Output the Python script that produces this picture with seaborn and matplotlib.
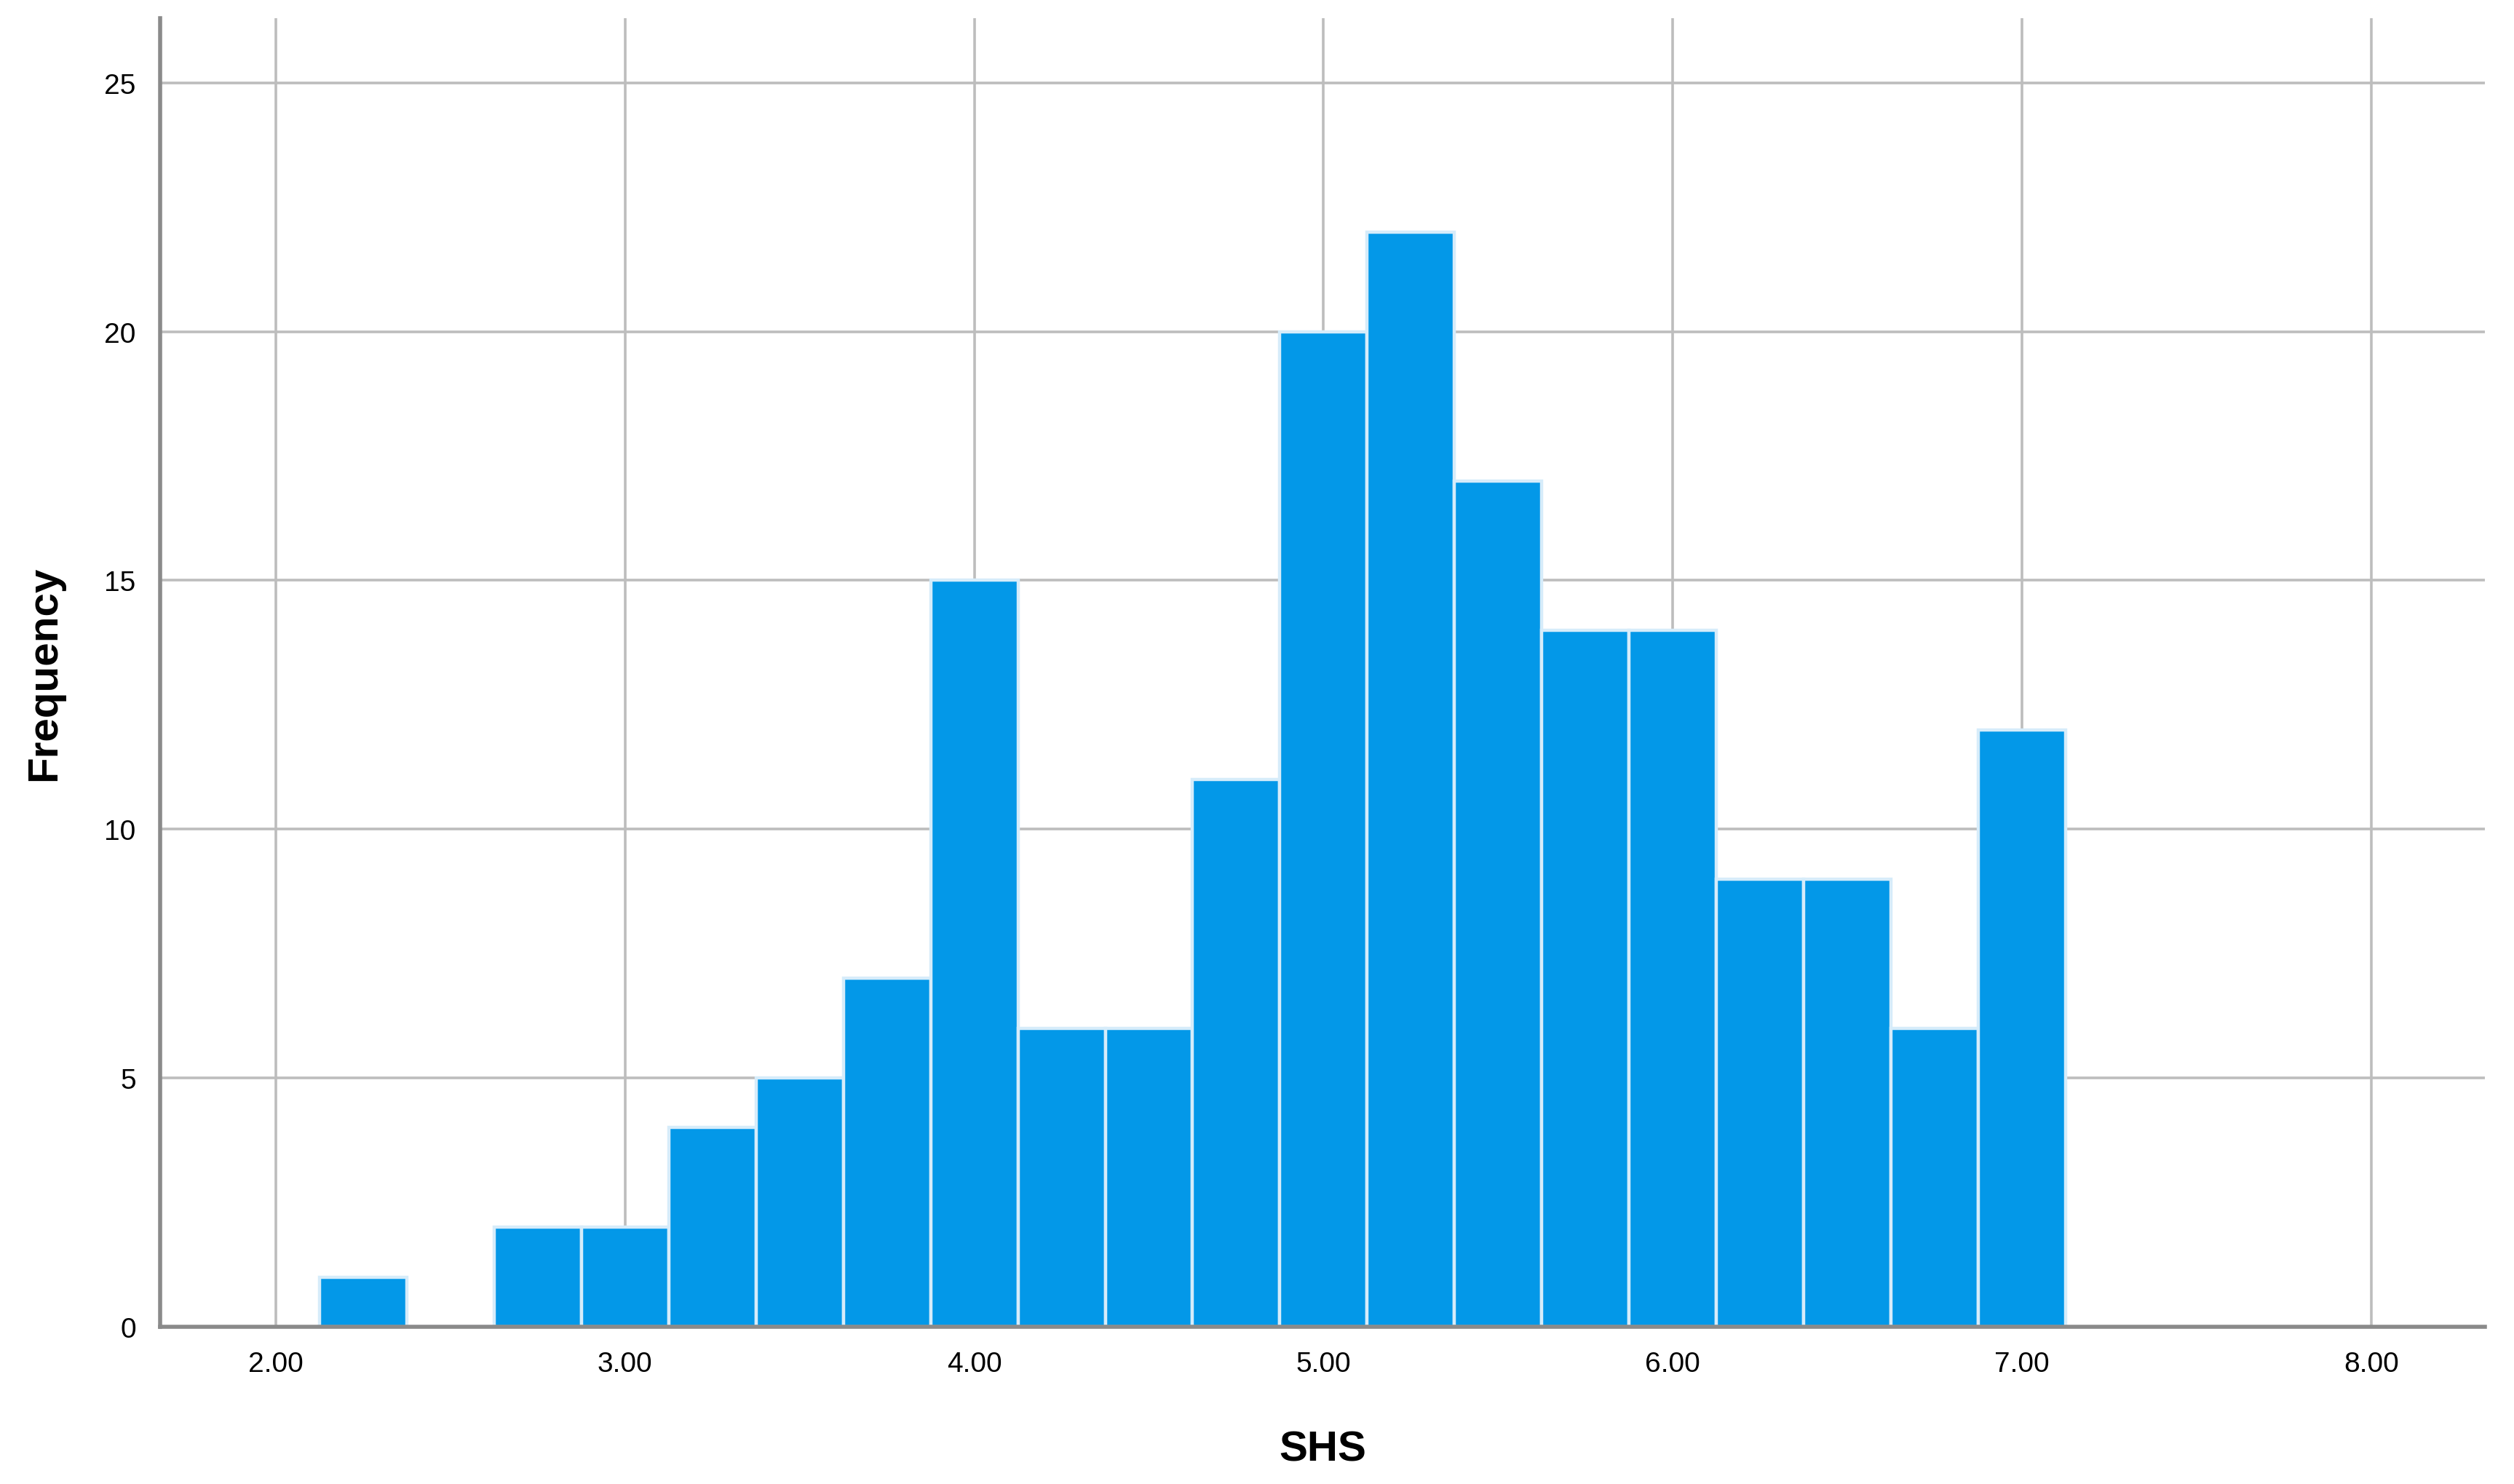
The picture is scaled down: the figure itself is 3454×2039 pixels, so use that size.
import seaborn as sns
import matplotlib
matplotlib.use('Agg')

import matplotlib.pyplot as plt
import pandas as pd

# значения гистограммы SHS (центры интервалов шириной 0.25)
bin_centers = [2.25, 2.50, 2.75, 3.00, 3.25, 3.50, 3.75, 4.00, 4.25, 4.50,
               4.75, 5.00, 5.25, 5.50, 5.75, 6.00, 6.25, 6.50, 6.75, 7.00]
counts = [1, 0, 2, 2, 4, 5, 7, 15, 6, 6,
          11, 20, 22, 17, 14, 14, 9, 9, 6, 12]
x_ticks = [2.0, 3.0, 4.0, 5.0, 6.0, 7.0, 8.0]
y_ticks = [0, 5, 10, 15, 20, 25]

bin_width = 0.25
edges = [c - bin_width / 2 for c in bin_centers] + [bin_centers[-1] + bin_width / 2]
df = pd.DataFrame({"SHS": bin_centers, "n": counts})

sns.set_style("white")
plt.rcParams['font.family'] = ['Liberation Sans', 'DejaVu Sans']

fig = plt.figure(figsize=(17.27, 10.2), dpi=200)
ax = fig.add_axes([0.0637, 0.1059, 0.9247, 0.8814])

sns.histplot(data=df, x="SHS", weights="n", bins=edges, ax=ax,
             color="#0398E8", alpha=1, edgecolor="#D6ECFA", linewidth=1.6, zorder=3)

ax.set_xlim(1.669, 8.325)
ax.set_ylim(0, 26.3)
ax.set_xticks(x_ticks)
ax.set_xticklabels([f"{t:.2f}" for t in x_ticks])
ax.set_yticks(y_ticks)

ax.grid(True, color="#BDBDBD", linewidth=1.3, zorder=0)
ax.set_axisbelow(True)

for side in ("top", "right"):
    ax.spines[side].set_visible(False)
for side in ("left", "bottom"):
    ax.spines[side].set_color("#8A8A8A")
    ax.spines[side].set_linewidth(2)
    ax.spines[side].set_zorder(4)

ax.tick_params(axis="both", length=0, labelsize=14, colors="black", pad=12)
ax.set_xlabel("SHS", fontsize=21, fontweight="bold", labelpad=26, color="black")
ax.set_ylabel("Frequency", fontsize=21, fontweight="bold", labelpad=20, color="black")

plt.savefig("out.png", dpi=200)
plt.close()
